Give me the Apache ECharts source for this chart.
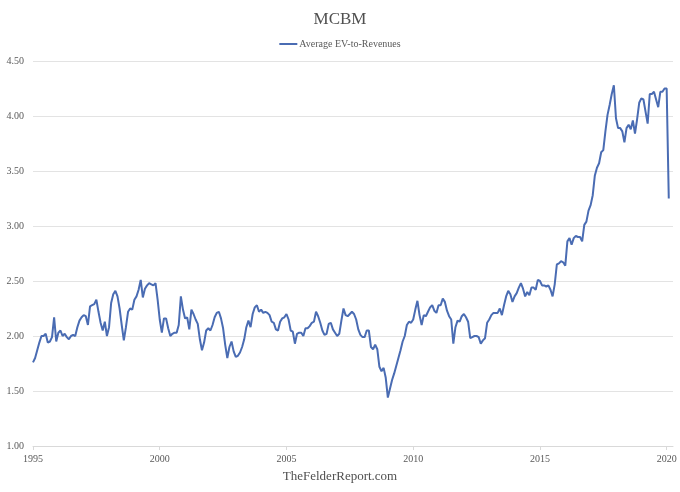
<!DOCTYPE html>
<html>
<head>
<meta charset="utf-8">
<script src="https://cdn.jsdelivr.net/npm/echarts@6/dist/echarts.min.js"></script>
<style>
  html, body { margin: 0; padding: 0; background: #fff; }
  #chart { width: 680px; height: 492px; }
</style>
</head>
<body>
<div id="chart"></div>
<script>
// monthly values, starting Jan 1995
var startYear = 1995;
var evRevenues = [
    1.76, 1.80, 1.87, 1.94, 2.00, 2.00, 2.02, 1.94, 1.95, 1.99, 2.17, 1.95, // 1995
    2.03, 2.05, 2.00, 2.02, 1.99, 1.97, 2.00, 2.01, 2.00, 2.08, 2.14, 2.17, // 1996
    2.19, 2.18, 2.10, 2.27, 2.28, 2.29, 2.33, 2.22, 2.12, 2.05, 2.13, 2.00, // 1997
    2.08, 2.30, 2.38, 2.41, 2.36, 2.25, 2.10, 1.96, 2.08, 2.22, 2.25, 2.24, // 1998
    2.33, 2.36, 2.42, 2.51, 2.35, 2.43, 2.46, 2.48, 2.47, 2.46, 2.48, 2.33, // 1999
    2.15, 2.03, 2.16, 2.16, 2.07, 2.00, 2.02, 2.03, 2.03, 2.10, 2.36, 2.24, // 2000
    2.16, 2.17, 2.06, 2.24, 2.20, 2.15, 2.11, 1.97, 1.87, 1.94, 2.05, 2.07, // 2001
    2.05, 2.10, 2.17, 2.21, 2.22, 2.16, 2.07, 1.92, 1.80, 1.90, 1.95, 1.86, // 2002
    1.81, 1.82, 1.85, 1.90, 1.97, 2.08, 2.14, 2.08, 2.20, 2.26, 2.28, 2.22, // 2003
    2.24, 2.21, 2.22, 2.21, 2.19, 2.13, 2.12, 2.06, 2.05, 2.13, 2.16, 2.17, // 2004
    2.20, 2.15, 2.05, 2.04, 1.93, 2.02, 2.03, 2.03, 2.00, 2.07, 2.07, 2.09, // 2005
    2.12, 2.13, 2.22, 2.18, 2.12, 2.05, 2.01, 2.02, 2.11, 2.12, 2.06, 2.03, // 2006
    2.00, 2.02, 2.14, 2.25, 2.19, 2.18, 2.20, 2.22, 2.20, 2.15, 2.06, 2.01, // 2007
    1.99, 1.99, 2.05, 2.05, 1.90, 1.88, 1.92, 1.88, 1.72, 1.68, 1.71, 1.62, // 2008
    1.44, 1.52, 1.60, 1.66, 1.73, 1.80, 1.87, 1.95, 2.00, 2.10, 2.13, 2.12, // 2009
    2.15, 2.24, 2.32, 2.19, 2.10, 2.19, 2.18, 2.22, 2.26, 2.28, 2.23, 2.21, // 2010
    2.28, 2.28, 2.34, 2.31, 2.23, 2.18, 2.15, 1.93, 2.08, 2.14, 2.13, 2.18, // 2011
    2.20, 2.17, 2.13, 1.98, 1.99, 2.00, 2.00, 1.99, 1.93, 1.96, 1.98, 2.12, // 2012
    2.15, 2.19, 2.21, 2.21, 2.21, 2.25, 2.19, 2.28, 2.36, 2.41, 2.38, 2.31, // 2013
    2.36, 2.39, 2.44, 2.48, 2.43, 2.36, 2.40, 2.37, 2.44, 2.44, 2.42, 2.51, // 2014
    2.50, 2.46, 2.46, 2.45, 2.46, 2.42, 2.36, 2.47, 2.65, 2.66, 2.68, 2.67, // 2015
    2.64, 2.86, 2.89, 2.83, 2.89, 2.91, 2.90, 2.90, 2.86, 3.01, 3.04, 3.14, // 2016
    3.19, 3.28, 3.46, 3.53, 3.57, 3.67, 3.69, 3.86, 4.01, 4.10, 4.20, 4.28, // 2017
    3.98, 3.89, 3.89, 3.86, 3.76, 3.89, 3.92, 3.88, 3.96, 3.84, 3.97, 4.12, // 2018
    4.16, 4.15, 4.04, 3.93, 4.20, 4.20, 4.22, 4.15, 4.08, 4.22, 4.22, 4.25, // 2019
    4.25, 3.25                                                              // 2020
];
var yearLabels = [1995, 2000, 2005, 2010, 2015, 2020];

var points = evRevenues.map(function (v, i) {
    return [startYear + i / 12, v];
});

var txt = '#595959';
var serif = '"Liberation Serif", "DejaVu Serif", serif';

var myChart = echarts.init(document.getElementById('chart'));
var option = {
    animation: false,
    title: [{
        text: 'MCBM',
        left: 'center',
        top: 6,
        textStyle: { fontFamily: serif, fontSize: 17, fontWeight: 'normal', color: '#505050' }
    }, {
        text: 'TheFelderReport.com',
        left: 'center',
        top: 465,
        textStyle: { fontFamily: serif, fontSize: 13, fontWeight: 'normal', color: '#505050' }
    }],
    legend: {
        top: 34,
        left: 'center',
        icon: 'rect',
        itemWidth: 18,
        itemHeight: 2,
        itemGap: 4,
        textStyle: { fontFamily: serif, fontSize: 10, color: txt, padding: [0, 0, 0, -3] },
        data: ['Average EV-to-Revenues']
    },
    grid: { left: 33, right: 7, top: 61, bottom: 46 },
    xAxis: {
        type: 'value',
        min: 1995,
        max: 2020.25,
        splitLine: { show: false },
        axisLine: { show: true, lineStyle: { color: '#d9d9d9' } },
        axisTick: { show: true, length: 4, lineStyle: { color: '#d9d9d9' }, customValues: yearLabels },
        axisLabel: {
            customValues: yearLabels,
            fontFamily: serif, fontSize: 10, color: txt, margin: 8,
            formatter: function (v) { return String(Math.round(v)); }
        }
    },
    yAxis: {
        type: 'value',
        min: 1,
        max: 4.5,
        interval: 0.5,
        axisLine: { show: false },
        axisTick: { show: false },
        splitLine: { lineStyle: { color: '#e3e3e3' } },
        axisLabel: {
            fontFamily: serif, fontSize: 10, color: txt, margin: 9,
            formatter: function (v) { return v.toFixed(2); }
        }
    },
    series: [{
        name: 'Average EV-to-Revenues',
        type: 'line',
        data: points,
        showSymbol: false,
        lineStyle: { color: '#4a6cb3', width: 2 },
        itemStyle: { color: '#4a6cb3' }
    }]
};
myChart.setOption(option);
</script>
</body>
</html>
